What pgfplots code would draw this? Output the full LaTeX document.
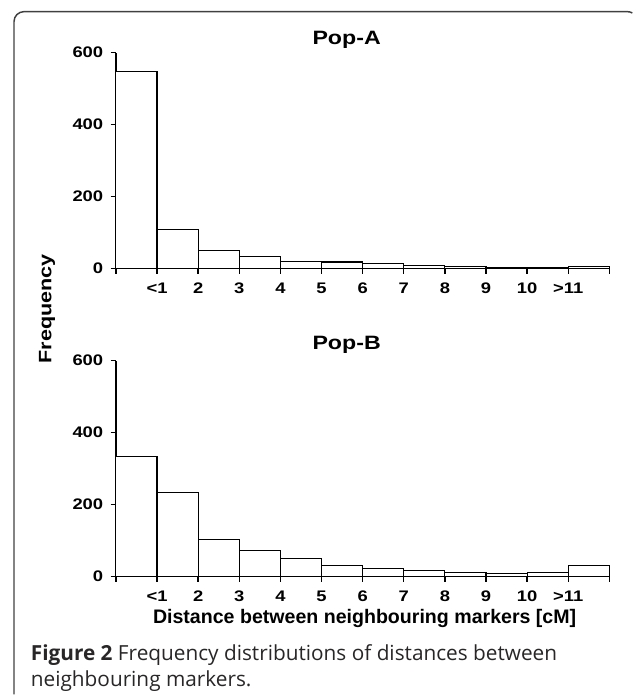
\documentclass[border=0pt]{standalone}
\usepackage{fontspec}
\setmainfont{Liberation Sans}
\newfontfamily\chartfont[FakeStretch=1.2]{Liberation Sans}
\newfontfamily\capfont{Open Sans}
\usepackage{pgfplots}
\usepackage{pgfplotstable}
\pgfplotsset{compat=1.18}
\definecolor{capgray}{RGB}{40,38,38}

% bins: <1, 1-2, ..., 10-11, >11 ; x = bin centre
\pgfplotstableread{
x y
0.5 547
1.5 107
2.5 49
3.5 32
4.5 19
5.5 18
6.5 15
7.5 7
8.5 6
9.5 3
10.5 3
11.5 5
}\popA
\pgfplotstableread{
x y
0.5 333
1.5 233
2.5 102
3.5 73
4.5 51
5.5 32
6.5 22
7.5 16
8.5 12
9.5 8
10.5 11
11.5 31
}\popB

\pgfplotsset{histo/.style={
  scale only axis, anchor=south west,
  width=370.5pt, height=162pt,
  xmin=0, xmax=12, ymin=0, ymax=600,
  axis x line*=bottom, axis y line*=left,
  axis line style={-, line width=1pt},
  every outer x axis line/.append style={-},
  every outer y axis line/.append style={-},
  tick align=outside, major tick length=4pt,
  tick style={black, line width=1pt},
  xtick={0,...,12},
  xticklabels={{},{<1},2,3,4,5,6,7,8,9,10,{>11},{}},
  ytick={0,200,400,600},
  /pgf/number format/assume math mode=true,
  ticklabel style={font=\chartfont\bfseries\fontsize{11.5}{13}\selectfont},
  xticklabel style={yshift=-3pt},
  yticklabel style={xshift=-2pt},
  clip=false,
}}

\begin{document}
\begin{tikzpicture}
\path (0,0) rectangle (474.75pt,521.25pt);
% figure frame
\draw[line width=1.1pt, black!75] (10.5pt,0pt) -- (10.5pt,505pt)
  arc[start angle=180, end angle=90, radius=7.5pt] -- (471pt,512.5pt)
  arc[start angle=90, end angle=60, radius=7.5pt];

\begin{axis}[histo, at={(87pt,319.7pt)}]
\addplot[ybar, bar width=1, bar shift=0pt, fill=white, draw=black, line width=0.8pt] table[x=x,y=y] {\popA};
\end{axis}

\begin{axis}[histo, at={(87pt,88.3pt)}, height=162.2pt]
\addplot[ybar, bar width=1, bar shift=0pt, fill=white, draw=black, line width=0.8pt] table[x=x,y=y] {\popB};
\end{axis}

\node[anchor=base, font=\chartfont\bfseries\fontsize{14.5}{17}\selectfont] at (260.25pt,487.5pt) {Pop-A};
\node[anchor=base, font=\chartfont\bfseries\fontsize{14.5}{17}\selectfont] at (260.25pt,258.75pt) {Pop-B};
\node[rotate=90, font=\chartfont\bfseries\fontsize{13.5}{16}\selectfont] at (35.25pt,289.5pt) {Frequency};
\node[anchor=base, font=\bfseries\fontsize{14.7}{17}\selectfont] at (273.75pt,52.9pt) {Distance between neighbouring markers [cM]};

\node[anchor=base west, inner sep=0pt, text=capgray, font=\capfont\fontsize{15.6}{18}\selectfont] at (23pt,25.5pt) {\textbf{Figure 2} Frequency distributions of distances between};
\node[anchor=base west, inner sep=0pt, text=capgray, font=\capfont\fontsize{15.6}{18}\selectfont] at (23pt,6.2pt) {neighbouring markers.};
\end{tikzpicture}
\end{document}
